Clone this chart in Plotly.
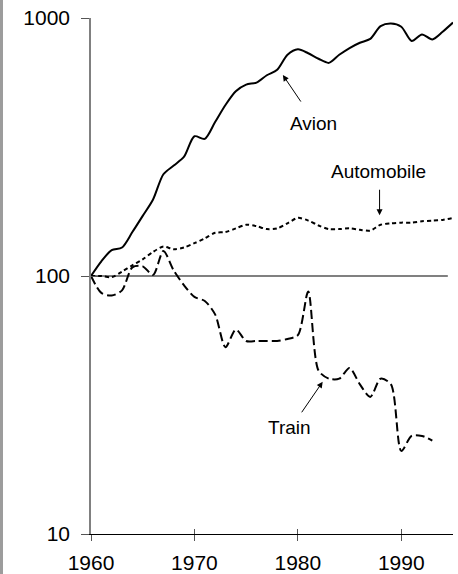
import math
import plotly.graph_objects as go

# Indices de trafic voyageurs (base 100 en 1960), échelle logarithmique
annees = list(range(1960, 1996))

avion = [100, 114, 126, 129, 148, 171, 198, 248, 268, 290,
         348, 340, 395, 460, 520, 552, 562, 600, 630, 720,
         756, 730, 695, 670, 720, 765, 802, 830, 930, 952,
         925, 815, 864, 826, 885, 960]

automobile = [100, 100, 99, 104, 110, 116, 124, 130, 127, 129,
              134, 140, 147, 148, 153, 158, 156, 152, 153, 160,
              168, 164, 157, 152, 152, 153, 151, 150, 158, 160,
              161, 161, 163, 164, 165, 168]

annees_train = list(range(1960, 1994))
train = [100, 86, 84, 88, 108, 109, 101, 125, 105, 92,
         83, 80, 71, 53, 62, 56, 56, 56, 56, 57,
         59, 87, 43, 40, 40, 44, 38, 34, 40, 38,
         21, 24, 24, 23]

y_ticks = [10, 100, 1000]
y_tick_labels = ["10", "100", "1000"]
x_ticks = [1960, 1970, 1980, 1990]
x_tick_labels = ["1960", "1970", "1980", "1990"]

# Étiquettes des séries : (texte, position du texte, pointe de flèche, décalage de la queue en px)
etiquettes = [
    ("Avion", (1981.5, 390), (1978.55, 601), (19, 28)),
    ("Automobile", (1987.75, 254), (1987.9, 172), (0, -27)),
    ("Train", (1979.2, 25.9), (1982.4, 38.9), (-22, 32)),
]

FONT = "Liberation Sans, Arial, sans-serif"

fig = go.Figure()

fig.add_trace(go.Scatter(
    x=annees, y=avion, mode="lines", name="Avion",
    line=dict(color="black", width=2, shape="spline", smoothing=0.8),
))
fig.add_trace(go.Scatter(
    x=annees, y=automobile, mode="lines", name="Automobile",
    line=dict(color="black", width=2, dash="4px,3px", shape="spline", smoothing=0.8),
))
fig.add_trace(go.Scatter(
    x=annees_train, y=train, mode="lines", name="Train",
    line=dict(color="black", width=2, dash="9px,4px", shape="spline", smoothing=0.8),
))
# Axes superposés pour les graduations intérieures (graduations croisées)
fig.add_trace(go.Scatter(x=[], y=[], xaxis="x2", yaxis="y2",
                         showlegend=False, hoverinfo="skip"))

# Sur un axe log, les annotations se placent en log10 de la valeur
for texte, (tx, ty), (hx, hy), (ax, ay) in etiquettes:
    fig.add_annotation(x=tx, y=math.log10(ty), xref="x", yref="y", text=texte,
                       showarrow=False, font=dict(family=FONT, size=19, color="black"))
    fig.add_annotation(x=hx, y=math.log10(hy), xref="x", yref="y", text="",
                       showarrow=True, ax=ax, ay=ay, arrowhead=2,
                       arrowsize=1.2, arrowwidth=1, arrowcolor="black")

# Ligne de référence à 100
fig.add_shape(type="line", xref="x", yref="y", x0=1960, x1=1994.5, y0=100, y1=100,
              line=dict(color="#808080", width=2), layer="below")

# Bande grise en bord gauche
plot_w = 458 - 91 - 5
fig.add_shape(type="rect", xref="paper", yref="paper",
              x0=-91 / plot_w, x1=-88 / plot_w, y0=-0.2, y1=1.2,
              fillcolor="#9c9c9c", line=dict(width=0), layer="below")

fig.update_layout(
    width=458, height=574,
    margin=dict(l=91, r=5, t=18, b=40),
    paper_bgcolor="white", plot_bgcolor="white",
    showlegend=False,
    font=dict(family=FONT, size=21, color="black"),
    xaxis=dict(
        range=[1960, 1995], tickvals=x_ticks, ticktext=x_tick_labels,
        showgrid=False, zeroline=False, automargin=False,
        showline=True, linecolor="black", linewidth=1,
        ticks="outside", ticklen=6, tickwidth=1, tickcolor="#555",
        ticklabelstandoff=4,
    ),
    yaxis=dict(
        type="log", range=[1, 3], tickvals=y_ticks, ticktext=y_tick_labels,
        showgrid=False, zeroline=False, automargin=False,
        showline=True, linecolor="#808080", linewidth=1.5,
        ticks="outside", ticklen=8, tickwidth=1, tickcolor="#555",
        ticklabelstandoff=7,
    ),
    xaxis2=dict(
        overlaying="x", matches="x", range=[1960, 1995], tickvals=x_ticks,
        showticklabels=False, showgrid=False, zeroline=False, showline=False,
        automargin=False,
        ticks="inside", ticklen=5, tickwidth=1, tickcolor="#555",
    ),
    yaxis2=dict(
        overlaying="y", type="log", range=[1, 3], tickvals=y_ticks,
        showticklabels=False, showgrid=False, zeroline=False, showline=False,
        automargin=False,
        ticks="inside", ticklen=7, tickwidth=1, tickcolor="#555",
    ),
)

fig.write_html("out.html")
